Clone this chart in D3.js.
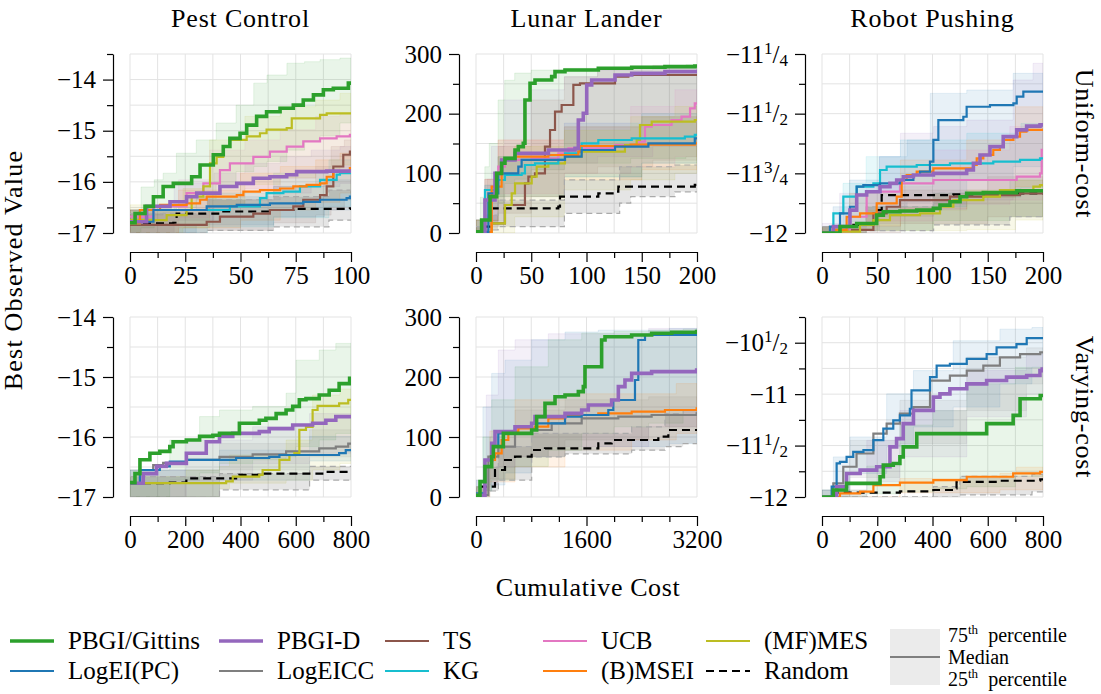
<!DOCTYPE html>
<html>
<head>
<meta charset="utf-8">
<script src="https://cdnjs.cloudflare.com/ajax/libs/d3/7.8.5/d3.min.js"></script>
<style>
body { margin: 0; background: #fff; }
svg text { font-family: "Liberation Serif", "Times New Roman", "DejaVu Serif", "Noto Serif", serif !important; fill: #000; }
</style>
</head>
<body>
<script>
// method keys, labels and colours (legend order, column-major)
var methodKeys = ["gittins","logei","pbgid","logeicc","ts","kg","ucb","msei","mes","random"];
var methodLabels = ["PBGI/Gittins","LogEI(PC)","PBGI-D","LogEICC","TS","KG","UCB","(B)MSEI","(MF)MES","Random"];
var methodColors = ["#2ca02c","#1f77b4","#9467bd","#7f7f7f","#8c564b","#17becf","#e377c2","#ff7f0e","#bcbd22","#000000"];

var problemTitles = ["Pest Control","Lunar Lander","Robot Pushing"];
var rowTitles = ["Uniform-cost","Varying-cost"];

// tick values / labels
var pestUniY = [-17,-16,-15,-14], pestUniYMinor = [-16.5,-15.5,-14.5,-13.5];
var pestVarY = [-17,-16,-15,-14], pestVarYMinor = [-16.5,-15.5,-14.5];
var lunarY = [0,100,200,300], lunarYMinor = [50,150,250];
var robotUniY = [-12,-11.75,-11.5,-11.25], robotUniYMinor = [-11.875,-11.625,-11.375];
var robotUniYLabels = ["\u221212","\u221211 3/4","\u221211 1/2","\u221211 1/4"];
var robotVarY = [-12,-11.5,-11,-10.5], robotVarYMinor = [-11.75,-11.25,-10.75,-10.25];
var robotVarYLabels = ["\u221212","\u221211 1/2","\u221211","\u221210 1/2"];
var pestUniX = [0,25,50,75,100], pestUniXMinor = [12.5,37.5,62.5,87.5];
var uni200X = [0,50,100,150,200], uni200XMinor = [25,75,125,175];
var var800X = [0,200,400,600,800], var800XMinor = [100,300,500,700];
var lunarVarX = [0,1600,3200], lunarVarXMinor = [400,800,1200,2000,2400,2800];

// ---- medians [cost, value] and bands [cost, 25th, 75th] ----
var pestUniMed = {
  gittins: [[0,-16.8],[2.3,-16.62],[6.8,-16.48],[10.6,-16.29],[15,-16.09],[19.6,-16.03],[27.9,-15.9],[31.7,-15.67],[37.7,-15.47],[42.2,-15.31],[45.2,-15.15],[49.8,-15.05],[52.8,-14.89],[57.3,-14.72],[61.8,-14.63],[67.9,-14.56],[73.9,-14.5],[78.4,-14.4],[83,-14.3],[87.5,-14.2],[92,-14.17],[98.8,-14.07]],
  logei: [[0,-16.78],[10.6,-16.55],[34.7,-16.48],[48.3,-16.45],[63.3,-16.42],[78.4,-16.39],[86,-16.35],[98,-16.32],[99.5,-16.29]],
  pbgid: [[0,-16.78],[7.5,-16.48],[18.1,-16.39],[25.6,-16.29],[30.2,-16.22],[40.7,-16.09],[48.3,-16.03],[55.8,-15.93],[63.3,-15.9],[70.9,-15.86],[75.4,-15.8],[89,-15.79]],
  ts: [[0,-16.84],[34.7,-16.78],[40.7,-16.68],[55.8,-16.62],[63.3,-16.55],[73.9,-16.48],[78.4,-16.35],[86,-16.26],[89,-16.09],[92,-15.7],[96.5,-15.47],[99.5,-15.41]],
  kg: [[0,-16.81],[4.5,-16.55],[45.2,-16.48],[58.8,-16.32],[61.8,-16.22],[69.4,-16.19],[76.9,-16.09],[86,-15.96],[93.5,-15.86],[95,-15.83]],
  ucb: [[0,-16.68],[10.6,-16.48],[25.6,-16.22],[33.2,-16.03],[40.7,-15.77],[45.2,-15.64],[55.8,-15.51],[63.3,-15.41],[70.9,-15.31],[78.4,-15.21],[86,-15.15],[93.5,-15.11],[99.5,-15.08]],
  msei: [[0,-16.81],[4.5,-16.55],[13.6,-16.45],[25.6,-16.42],[31.7,-16.35],[34.7,-16.29],[48.3,-16.26],[51.3,-16.19],[58.8,-16.16],[67.9,-16.13],[73.9,-16.09],[79.9,-16.06],[86,-16.03],[89,-15.9],[92,-15.8],[99.5,-15.73]],
  mes: [[0,-16.75],[16.6,-16.65],[25.6,-16.55],[27.9,-16.29],[33.2,-16.09],[36.2,-15.64],[39.2,-15.51],[42.2,-15.31],[45.2,-15.18],[52.8,-15.11],[58.8,-15.05],[61.8,-14.98],[70.9,-14.95],[73.2,-14.76],[86,-14.69],[89,-14.66]],
  random: [[0,-16.81],[19.6,-16.8],[21.1,-16.62],[40.7,-16.58],[64.9,-16.55],[73.9,-16.53],[99.5,-16.52]]
};
var pestUniBand = {
  gittins: [[0,-17,-16.55],[5,-16.9,-16.1],[11,-16.65,-15.96],[15,-16.6,-15.83],[21,-16.5,-15.44],[30,-16.35,-15.18],[39,-16.05,-14.85],[48,-15.8,-14.5],[56,-15.7,-14.07],[62,-15.6,-13.91],[71,-15.38,-13.68],[79,-15.2,-13.65],[86,-15.1,-13.61],[95,-14.85,-13.58]],
  logei: [[0,-17,-16.55],[30,-16.84,-16.29],[65,-16.68,-16.09],[88,-16.55,-15.96]],
  pbgid: [[0,-17,-16.55],[20,-16.75,-16.03],[38,-16.48,-15.83],[52,-16.35,-15.64],[68,-16.22,-15.51],[82,-16.09,-15.38],[95,-16.03,-15.31]],
  ts: [[0,-17,-16.55],[35,-16.95,-16.35],[65,-16.8,-16.09],[84,-16.65,-15.7],[91,-16.55,-15.31],[97,-16.35,-15.18]],
  kg: [[0,-17,-16.55],[35,-16.88,-16.22],[65,-16.7,-15.83],[90,-16.48,-15.57]],
  ucb: [[0,-17,-16.55],[22,-16.7,-15.96],[36,-16.3,-15.38],[52,-16.13,-15.18],[68,-15.93,-14.98],[84,-15.8,-14.72],[95,-15.73,-14.66]],
  msei: [[0,-17,-16.55],[22,-16.9,-16.16],[50,-16.75,-15.83],[68,-16.55,-15.7],[84,-16.4,-15.57],[95,-16.22,-15.44]],
  mes: [[0,-17,-16.45],[24,-16.9,-16.13],[36,-16.45,-15.18],[52,-16.05,-14.72],[68,-15.92,-14.53],[84,-15.8,-14.4],[95,-15.67,-14.27]],
  random: [[0,-17,-16.62],[35,-16.95,-16.35],[65,-16.88,-16.29],[90,-16.75,-16.16]]
};

var lunarUniMed = {
  gittins: [[0,2],[5.1,21.8],[12.7,60.9],[18.7,100],[23.2,116.8],[26.2,125.1],[35.3,139.1],[38.3,144.7],[42.8,150.3],[44.3,222.9],[48.9,250.9],[53.4,256.4],[68.5,262],[71.5,270.4],[80.5,273.2],[110.7,276],[140.9,277.7],[171,278.8],[198,280]],
  logei: [[0,2],[11.2,66.5],[20.2,100],[38.3,111.2],[41.3,122.4],[80.5,127.9],[95.6,139.1],[125.8,144.7],[156,150.3],[198,158.7]],
  pbgid: [[0,2],[8.1,55.3],[17.2,100],[23.2,122.4],[35.3,133.5],[65.5,139.1],[89.6,141.9],[92.6,189.4],[97.1,200.6],[100.2,248.1],[104.7,256.4],[125.8,264.8],[140.9,267.6],[171,270.4]],
  ts: [[0,0.6],[14.2,16.2],[26.2,46.9],[44.3,83.2],[47.4,94.4],[53.4,100],[62.4,144.7],[67,172.6],[71.5,203.4],[77.5,214.5],[88.1,248.1],[94.1,250.9],[125.8,262],[137.9,264.8]],
  kg: [[0,2],[8.1,72.1],[17.2,88.8],[26.2,97.2],[41.3,100],[44.3,114],[53.4,116.8],[74.5,122.4],[80.5,133.5],[92.6,136.3],[95.6,150.3],[110.7,155.9],[140.9,158.7],[189,161.5],[198,164.3]],
  ucb: [[0,2],[14.2,77.7],[20.2,111.2],[26.2,122.4],[50.4,125.1],[74.5,133.5],[83.6,141.9],[125.8,147.5],[146.9,153.1],[152.9,178.2],[159,181],[177,189.4],[186,195],[193.7,209],[198,217.3]],
  msei: [[0,2],[14.2,77.7],[23.2,122.4],[35.3,127.9],[65.5,130.7],[92.6,136.3],[94.1,145.8],[140,148],[198,150.3]],
  mes: [[0,0.6],[14.2,16.2],[26.2,46.9],[32.3,66.5],[35.3,83.2],[50.4,94.4],[54.9,111.2],[65.5,116.8],[80.5,127.9],[95.6,136.3],[134.8,147.5],[145.4,155.9],[148.4,181],[159,186.6],[198,189.4]],
  random: [[0,0.6],[8.1,10.6],[12.7,41.3],[74.5,44.1],[76,60.9],[110.7,66.5],[125.8,69.3],[128.8,77.7],[198,80.5]]
};
var lunarUniBand = {
  gittins: [[0,0,21.8],[4,0,60],[8,0,111],[12,44,150],[20,50,223],[26,83,256],[35,90,268],[50,106,273],[80,117,276],[140,125,280],[190,128,282]],
  logei: [[0,0,21.8],[8,20,80],[20,61,128],[80,94,178],[150,117,195]],
  pbgid: [[0,0,21.8],[8,5,90],[14,20,145],[26,66,223],[50,106,240],[80,117,262],[110,128,273],[160,145,276]],
  ts: [[0,0,21.8],[10,10,90],[20,33,145],[50,61,223],[80,100,262],[110,111,276],[160,122,281]],
  kg: [[0,0,21.8],[8,20,80],[20,61,128],[80,94,184],[150,117,200]],
  ucb: [[0,0,21.8],[8,20,90],[20,66,156],[80,100,184],[140,111,212],[180,128,240]],
  msei: [[0,0,21.8],[8,20,90],[20,61,156],[80,89,178],[150,106,195]],
  mes: [[0,0,21.8],[20,0,128],[35,27,145],[80,72,172],[140,89,195],[180,100,212]],
  random: [[0,0,10.6],[8,5,30],[20,10.6,55],[80,33,89],[130,50,111],[140,61,111],[180,69,114]]
};

var robotUniMed = {
  gittins: [[0,-12],[16.3,-11.973],[31.4,-11.96],[49.5,-11.925],[55.5,-11.911],[70.6,-11.908],[85.7,-11.904],[100.8,-11.897],[106.8,-11.883],[115.8,-11.869],[124.9,-11.848],[130.9,-11.834],[146,-11.831],[176.2,-11.823]],
  logei: [[0,-12],[7.2,-11.973],[16.3,-11.918],[25.3,-11.89],[31.4,-11.806],[37.4,-11.799],[52.5,-11.792],[70.6,-11.778],[82.7,-11.757],[88.7,-11.743],[97.7,-11.701],[100.8,-11.61],[105.3,-11.527],[127.9,-11.513],[130.9,-11.471],[152,-11.464],[173.2,-11.457],[176.2,-11.429],[182.2,-11.408]],
  pbgid: [[0,-12],[10.3,-11.973],[25.3,-11.904],[31.4,-11.841],[40.4,-11.827],[52.5,-11.806],[61.5,-11.792],[67.6,-11.778],[73.6,-11.764],[82.7,-11.757],[100.8,-11.75],[130.9,-11.736],[137,-11.708],[143,-11.673],[152,-11.638],[164,-11.596],[176.2,-11.568],[185.2,-11.552],[197.3,-11.547]],
  ts: [[0,-12],[25.3,-11.987],[46.5,-11.918],[58.5,-11.89],[70.6,-11.862],[115.8,-11.848],[146,-11.841],[179.2,-11.834]],
  kg: [[0,-12],[10.3,-11.918],[19.3,-11.848],[31.4,-11.806],[46.5,-11.792],[52.5,-11.736],[58.5,-11.722],[85.7,-11.715],[115.8,-11.708],[155,-11.701],[179.2,-11.694],[197.3,-11.687]],
  ucb: [[0,-12],[25.3,-11.932],[40.4,-11.827],[70.6,-11.792],[100.8,-11.778],[176.2,-11.764],[197.3,-11.75],[198.8,-11.652]],
  msei: [[0,-12],[10.3,-11.987],[22.3,-11.932],[34.4,-11.918],[49.5,-11.876],[67.6,-11.848],[72.1,-11.778],[76.6,-11.757],[85.7,-11.743],[100.8,-11.729],[137,-11.715],[140,-11.687],[146,-11.673],[155,-11.652],[161,-11.638],[164,-11.61],[173.2,-11.596],[179.2,-11.575],[185,-11.568]],
  mes: [[0,-12],[16.3,-11.994],[34.4,-11.966],[46.5,-11.946],[61.5,-11.925],[88.7,-11.918],[106.8,-11.89],[118.9,-11.862],[146,-11.848],[161,-11.82],[191.3,-11.806],[197.3,-11.799]],
  random: [[0,-12],[16.3,-11.973],[28.4,-11.966],[49.5,-11.904],[54,-11.841],[118.9,-11.838],[140,-11.834]]
};
var robotUniBand = {
  gittins: [[0,-12,-11.973],[40,-11.99,-11.89],[101,-11.948,-11.834],[170,-11.932,-11.778]],
  logei: [[0,-12,-11.973],[10,-11.99,-11.89],[25,-11.953,-11.778],[52,-11.89,-11.68],[77,-11.87,-11.61],[98,-11.834,-11.415],[131,-11.778,-11.401],[173,-11.722,-11.331]],
  pbgid: [[0,-12,-11.96],[16,-11.99,-11.834],[52,-11.96,-11.68],[71,-11.93,-11.582],[101,-11.9,-11.554],[131,-11.862,-11.527],[173,-11.82,-11.359],[191,-11.806,-11.289]],
  ts: [[0,-12,-11.973],[71,-11.96,-11.82],[150,-11.932,-11.764]],
  kg: [[0,-12,-11.973],[19,-11.97,-11.792],[40,-11.93,-11.68],[71,-11.89,-11.61],[131,-11.85,-11.582],[180,-11.81,-11.541]],
  ucb: [[0,-12,-11.973],[40,-11.95,-11.806],[101,-11.88,-11.652],[170,-11.862,-11.554]],
  msei: [[0,-12,-11.973],[25,-11.97,-11.834],[71,-11.9,-11.694],[131,-11.85,-11.61],[175,-11.806,-11.471]],
  mes: [[0,-12,-11.973],[40,-11.99,-11.904],[131,-11.986,-11.82],[175,-11.946,-11.778]],
  random: [[0,-12,-11.973],[40,-11.99,-11.89],[101,-11.966,-11.834],[170,-11.932,-11.82]]
};

var pestVarMed = {
  gittins: [[0,-16.76],[18,-16.61],[36,-16.38],[72,-16.27],[108,-16.24],[144,-16.16],[156,-16.08],[204,-16.05],[252,-15.99],[300,-15.97],[324,-15.94],[396,-15.77],[468,-15.72],[492,-15.69],[529,-15.61],[565,-15.55],[589,-15.49],[613,-15.38],[637,-15.36],[685,-15.3],[721,-15.22],[757,-15.11],[795,-15.02]],
  logei: [[0,-16.77],[36,-16.55],[108,-16.49],[144,-16.41],[204,-16.38],[384,-16.35],[504,-16.33],[541,-16.3],[757,-16.27],[781,-16.22]],
  pbgid: [[0,-16.77],[48,-16.61],[96,-16.49],[132,-16.44],[204,-16.27],[276,-16.08],[324,-15.99],[372,-15.94],[468,-15.91],[504,-15.86],[589,-15.8],[661,-15.77],[709,-15.72],[745,-15.66]],
  logeicc: [[0,-16.77],[36,-16.55],[84,-16.47],[120,-16.43],[204,-16.38],[324,-16.33],[444,-16.29],[565,-16.24],[685,-16.19],[745,-16.16],[790,-16.11]],
  mes: [[0,-16.77],[348,-16.74],[372,-16.66],[468,-16.63],[480,-16.55],[541,-16.38],[577,-16.3],[595,-16.27],[613,-15.88],[637,-15.83],[661,-15.55],[679,-15.48],[757,-15.44],[790,-15.38]],
  random: [[0,-16.77],[144,-16.76],[204,-16.69],[396,-16.63],[480,-16.61],[709,-16.58],[790,-16.56]]
};
var pestVarBand = {
  gittins: [[0,-17,-16.55],[144,-16.72,-16.05],[252,-16.6,-15.66],[324,-16.44,-15.55],[444,-16.38,-15.49],[565,-16.33,-15.27],[601,-16.16,-14.72],[685,-16.05,-14.55],[745,-15.94,-14.44]],
  logei: [[0,-17,-16.55],[324,-16.72,-16.22],[650,-16.4,-15.99]],
  pbgid: [[0,-17,-16.55],[204,-16.72,-16.05],[444,-16.44,-15.83],[650,-16.27,-15.61]],
  logeicc: [[0,-17,-16.55],[324,-16.55,-16.11],[650,-16.33,-15.88]],
  mes: [[0,-17,-16.66],[204,-17,-16.55],[324,-16.86,-16.49],[360,-16.77,-16.3],[565,-16.72,-16.05],[661,-16.55,-15.3],[760,-16.44,-15.2]],
  random: [[0,-17,-16.66],[324,-16.88,-16.61],[650,-16.72,-16.49]]
};

var lunarVarMed = {
  gittins: [[0,3],[58,25.6],[130,50.6],[227,67.2],[251,83.9],[396,106.1],[806,111.7],[878,133.9],[999,156.1],[1144,167.2],[1289,170],[1482,175.6],[1554,183.9],[1578,217.2],[1819,261.7],[1868,267.2],[2254,270],[2543,272.8],[2833,274.5],[3195,275.6]],
  logei: [[0,6],[130,61.7],[227,83.9],[323,106.1],[420,108.9],[565,117.2],[806,122.8],[1289,133.9],[1530,136.7],[1916,145],[1988,161.7],[2302,195],[2350,261.7],[2447,270],[3195,275.6]],
  pbgid: [[0,3],[130,61.7],[227,89.4],[275,108.9],[565,117.2],[806,122.8],[854,133.9],[1289,139.4],[1530,145],[1626,153.3],[1964,161.7],[2061,183.9],[2157,195],[2254,206.1],[2543,208.9],[3195,211.7]],
  logeicc: [[0,3],[179,67.2],[323,83.9],[565,106.1],[806,111.7],[1096,122.8],[1530,131.1],[2061,133.9],[2543,136.7],[3195,139.4]],
  msei: [[0,3],[130,61.7],[275,72.8],[372,95],[468,108.9],[613,114.5],[854,117.2],[1047,131.1],[1289,136.7],[1771,139.4],[2254,142.2],[2736,145],[3195,147.8]],
  random: [[0,0],[58,17.2],[275,45],[420,61.7],[565,67.2],[806,78.3],[999,81.1],[1771,89.4],[1964,95],[2640,100.6],[2785,111.7]]
};
var lunarVarBand = {
  gittins: [[0,0,17],[100,10,100],[227,28,162],[565,51,217],[1047,78,262],[1530,106,273],[2000,117,276],[2500,123,278],[3000,145,280]],
  logei: [[0,0,28],[100,10,150],[227,20,206],[420,40,228],[806,67,262],[1289,78,275],[1771,84,278],[2800,89,281]],
  pbgid: [[0,0,28],[150,20,170],[323,50,245],[565,67,262],[1047,84,272],[2500,117,281]],
  logeicc: [[0,0,17],[200,30,100],[565,67,145],[1289,95,162],[2500,117,167]],
  msei: [[0,0,17],[200,25,110],[565,50,162],[1289,78,172],[2254,95,172],[2900,106,189]],
  random: [[0,0,17],[120,10,50],[323,28,84],[806,67,106],[1289,72,106],[2254,78,117],[2736,84,139],[3000,89,145]]
};

var robotVarMed = {
  gittins: [[0,-12],[41,-11.932],[89,-11.868],[210,-11.803],[222,-11.69],[258,-11.674],[282,-11.61],[294,-11.513],[343,-11.384],[596,-11.287],[692,-11.206],[717,-11.045],[790,-11.013]],
  logei: [[0,-12],[35,-11.9],[53,-11.674],[65,-11.658],[89,-11.61],[113,-11.561],[150,-11.545],[186,-11.448],[222,-11.335],[258,-11.255],[282,-11.206],[318,-11.142],[324,-10.964],[391,-10.835],[415,-10.723],[463,-10.706],[524,-10.658],[596,-10.61],[632,-10.545],[704,-10.513],[741,-10.455]],
  pbgid: [[0,-12],[53,-11.9],[89,-11.771],[138,-11.739],[198,-11.706],[246,-11.513],[270,-11.432],[294,-11.287],[331,-11.158],[403,-11.029],[427,-10.997],[463,-10.948],[524,-10.9],[596,-10.868],[668,-10.835],[741,-10.819],[789,-10.771],[797,-10.755]],
  logeicc: [[0,-12],[41,-11.868],[77,-11.706],[125,-11.577],[186,-11.384],[234,-11.287],[282,-11.19],[331,-11.126],[391,-10.868],[463,-10.819],[524,-10.771],[584,-10.723],[644,-10.642],[717,-10.61],[790,-10.594]],
  msei: [[0,-12],[65,-11.965],[138,-11.948],[186,-11.884],[282,-11.861],[403,-11.835],[524,-11.803],[692,-11.771],[790,-11.755]],
  random: [[0,-12],[53,-11.958],[282,-11.945],[403,-11.932],[475,-11.916],[487,-11.852],[644,-11.842],[790,-11.829]]
};
var robotVarBand = {
  gittins: [[0,-12,-11.932],[162,-11.97,-11.7],[282,-11.95,-11.3],[403,-11.92,-11.16],[524,-11.9,-10.9],[700,-11.8,-10.74]],
  logei: [[0,-12,-11.932],[41,-11.95,-11.61],[101,-11.771,-11.416],[234,-11.513,-10.997],[331,-11.319,-10.771],[475,-11.126,-10.481],[644,-10.9,-10.368],[760,-10.739,-10.352]],
  pbgid: [[0,-12,-11.932],[162,-11.85,-11.45],[282,-11.61,-11.16],[524,-11.22,-10.77],[740,-11.0,-10.61]],
  logeicc: [[0,-12,-11.932],[101,-11.81,-11.45],[282,-11.48,-11.06],[524,-11.16,-10.64],[740,-10.9,-10.55]],
  msei: [[0,-12,-12],[282,-11.96,-11.82],[644,-11.93,-11.77],[704,-11.93,-11.71]],
  random: [[0,-12,-12],[403,-12,-11.9],[499,-11.98,-11.8],[760,-11.95,-11.78]]
};

// ---- layout ----
var W = 1101, H = 694;
var colX = [130, 476, 822], plotW = 221;
var rowTop = [54, 317], rowBot = [233, 497];
var FS = 25, FSL = 26;
var FONT = "'Liberation Serif', 'Times New Roman', 'DejaVu Serif', serif";

var svg = d3.select("body").append("svg").attr("width", W).attr("height", H)
    .attr("font-family", FONT);

var panels = [
  {med: pestUniMed, band: pestUniBand, xDom: [0,100], xT: pestUniX, xM: pestUniXMinor, yDom: [-17,-13.5], yT: pestUniY, yM: pestUniYMinor},
  {med: lunarUniMed, band: lunarUniBand, xDom: [0,200], xT: uni200X, xM: uni200XMinor, yDom: [0,300], yT: lunarY, yM: lunarYMinor},
  {med: robotUniMed, band: robotUniBand, xDom: [0,200], xT: uni200X, xM: uni200XMinor, yDom: [-12,-11.25], yT: robotUniY, yM: robotUniYMinor, yL: robotUniYLabels},
  {med: pestVarMed, band: pestVarBand, xDom: [0,800], xT: var800X, xM: var800XMinor, yDom: [-17,-14], yT: pestVarY, yM: pestVarYMinor},
  {med: lunarVarMed, band: lunarVarBand, xDom: [0,3200], xT: lunarVarX, xM: lunarVarXMinor, yDom: [0,300], yT: lunarY, yM: lunarYMinor},
  {med: robotVarMed, band: robotVarBand, xDom: [0,800], xT: var800X, xM: var800XMinor, yDom: [-12,-10.25], yT: robotVarY, yM: robotVarYMinor, yL: robotVarYLabels}
];

var minus = function(v){ return String(v).replace("-", "\u2212"); };

// write "−11 1/4" style labels as whole + small fraction
function fracLabel(sel, label) {
  sel.text(null);
  var parts = label.split(" ");
  sel.append("tspan").text(parts[0]);
  if (parts.length > 1) {
    var f = parts[1].split("/");
    sel.append("tspan").attr("font-size", 17).attr("dy", -9).text(f[0]);
    sel.append("tspan").attr("dy", 9).text("/");
    sel.append("tspan").attr("font-size", 17).attr("dy", 3).text(f[1]);
  }
}

// extend a step series flat to the right edge
function ext(a, xmax) {
  var last = a[a.length-1];
  return last[0] < xmax ? a.concat([[xmax].concat(last.slice(1))]) : a;
}

var lineOrder = ["random","logeicc","ts","ucb","mes","kg","msei","logei","pbgid","gittins"];

panels.forEach(function(p, i) {
  var col = i % 3, row = Math.floor(i / 3);
  var x0 = colX[col], yT = rowTop[row], yB = rowBot[row];
  var x = d3.scaleLinear().domain(p.xDom).range([x0, x0 + plotW]);
  var y = d3.scaleLinear().domain(p.yDom).range([yB, yT]);
  var g = svg.append("g");

  var clipId = "clip" + i;
  svg.append("clipPath").attr("id", clipId).append("rect")
      .attr("x", x0).attr("y", yT).attr("width", plotW).attr("height", yB - yT);

  // grid
  var gx = p.xT.concat(p.xM), gy = p.yT.concat(p.yM);
  g.selectAll("line.gx").data(gx).enter().append("line")
      .attr("x1", function(d){ return x(d); }).attr("x2", function(d){ return x(d); })
      .attr("y1", yT).attr("y2", yB)
      .attr("stroke", "#e3e3e3").attr("stroke-width", 1);
  g.selectAll("line.gy").data(gy).enter().append("line")
      .attr("y1", function(d){ return y(d); }).attr("y2", function(d){ return y(d); })
      .attr("x1", x0).attr("x2", x0 + plotW)
      .attr("stroke", "#e3e3e3").attr("stroke-width", 1);

  var plot = g.append("g").attr("clip-path", "url(#" + clipId + ")");
  var xmax = p.xDom[1];

  var area = d3.area().curve(d3.curveStepAfter)
      .x(function(d){ return x(d[0]); })
      .y0(function(d){ return y(d[1]); })
      .y1(function(d){ return y(d[2]); });
  var line = d3.line().curve(d3.curveStepAfter)
      .x(function(d){ return x(d[0]); })
      .y(function(d){ return y(d[1]); });
  var edgeHi = d3.line().curve(d3.curveStepAfter)
      .x(function(d){ return x(d[0]); })
      .y(function(d){ return y(d[2]); });

  // percentile bands
  methodKeys.forEach(function(k, j) {
    if (!p.band[k]) return;
    var data = ext(p.band[k], xmax);
    if (k === "random") {
      plot.append("path").datum(data).attr("d", area)
          .attr("fill", "#000").attr("fill-opacity", 0.1).attr("stroke", "none");
      [line, edgeHi].forEach(function(gen) {
        plot.append("path").datum(data).attr("d", gen)
            .attr("fill", "none").attr("stroke", "#aaa").attr("stroke-width", 1.2).attr("stroke-dasharray", "6,4");
      });
    } else {
      plot.append("path").datum(data).attr("d", area)
          .attr("fill", methodColors[j]).attr("fill-opacity", 0.1)
          .attr("stroke", methodColors[j]).attr("stroke-opacity", 0.1).attr("stroke-width", 1);
    }
  });

  // medians
  lineOrder.forEach(function(k) {
    if (!p.med[k]) return;
    var j = methodKeys.indexOf(k);
    var thick = (k === "gittins" || k === "pbgid");
    plot.append("path").datum(ext(p.med[k], xmax)).attr("d", line)
        .attr("fill", "none").attr("stroke", methodColors[j])
        .attr("stroke-width", thick ? 3.6 : 2.2)
        .attr("stroke-dasharray", k === "random" ? "8,5" : null);
  });

  // x axis (offset below)
  var ax = g.append("g").attr("transform", "translate(0," + (yB + 19) + ")")
      .call(d3.axisBottom(x).tickValues(p.xT).tickSize(10).tickSizeOuter(0).tickPadding(4)
            .tickFormat(function(d){ return d; }));
  g.append("g").attr("transform", "translate(0," + (yB + 19) + ")")
      .call(d3.axisBottom(x).tickValues(p.xM).tickSize(6).tickFormat(""))
      .select(".domain").remove();

  // y axis (offset left)
  var ay = g.append("g").attr("transform", "translate(" + (x0 - 17) + ",0)")
      .call(d3.axisLeft(y).tickValues(p.yT).tickSize(10).tickSizeOuter(0).tickPadding(7)
            .tickFormat(function(d, k){ return p.yL ? p.yL[k] : minus(d); }));
  g.append("g").attr("transform", "translate(" + (x0 - 17) + ",0)")
      .call(d3.axisLeft(y).tickValues(p.yM).tickSize(6).tickFormat(""))
      .select(".domain").remove();

  [ax, ay].forEach(function(a) {
    a.attr("font-family", FONT).attr("font-size", FS);
    a.selectAll("text").attr("fill", "#000");
  });
  if (p.yL) ay.selectAll(".tick text").each(function(d, k){ fracLabel(d3.select(this), p.yL[k]); });
  g.selectAll(".domain, .tick line").attr("stroke", "#000").attr("stroke-width", 1.2);
});

// titles
problemTitles.forEach(function(t, i) {
  svg.append("text").attr("x", colX[i] + plotW / 2).attr("y", 27)
      .attr("text-anchor", "middle").attr("font-size", FSL).attr("letter-spacing", 0.8).text(t);
});
rowTitles.forEach(function(t, i) {
  var cy = (rowTop[i] + rowBot[i]) / 2;
  svg.append("text").attr("transform", "translate(1076," + cy + ") rotate(90)")
      .attr("text-anchor", "middle").attr("font-size", FSL).attr("letter-spacing", 0.8).text(t);
});
svg.append("text").attr("transform", "translate(22,270) rotate(-90)")
    .attr("text-anchor", "middle").attr("font-size", FSL).attr("letter-spacing", 1.2).text("Best Observed Value");
svg.append("text").attr("x", 588).attr("y", 596)
    .attr("text-anchor", "middle").attr("font-size", FSL).attr("letter-spacing", 0.6).text("Cumulative Cost");

// legend (two rows, column-major)
var legColX = [10, 219, 385, 543, 706];
var legRowY = [641, 671];
var leg = svg.append("g");
methodKeys.forEach(function(k, i) {
  var cx = legColX[Math.floor(i / 2)], cy = legRowY[i % 2];
  var thick = (k === "gittins" || k === "pbgid");
  leg.append("line").attr("x1", cx).attr("x2", cx + 44).attr("y1", cy).attr("y2", cy)
      .attr("stroke", methodColors[i]).attr("stroke-width", thick ? 3.6 : 2.2)
      .attr("stroke-dasharray", k === "random" ? "8,5" : null);
  leg.append("text").attr("x", cx + 58).attr("y", cy + 8).attr("font-size", FS).text(methodLabels[i]);
});
leg.append("rect").attr("x", 890).attr("y", 629).attr("width", 50).attr("height", 56)
    .attr("fill", "#000").attr("fill-opacity", 0.08);
leg.append("line").attr("x1", 890).attr("x2", 940).attr("y1", 657).attr("y2", 657)
    .attr("stroke", "#7f7f7f").attr("stroke-width", 2.2);
var pctText = [["75", "th", " percentile", 642], [null, null, "Median", 664], ["25", "th", " percentile", 686]];
pctText.forEach(function(r) {
  var t = leg.append("text").attr("x", 948).attr("y", r[3]).attr("font-size", 20);
  if (r[0]) {
    t.append("tspan").text(r[0]);
    t.append("tspan").attr("font-size", 13).attr("dy", -8).text(r[1]);
    t.append("tspan").attr("dy", 8).text("\u00a0" + r[2]);
  } else {
    t.text(r[2]);
  }
});
</script>
</body>
</html>
